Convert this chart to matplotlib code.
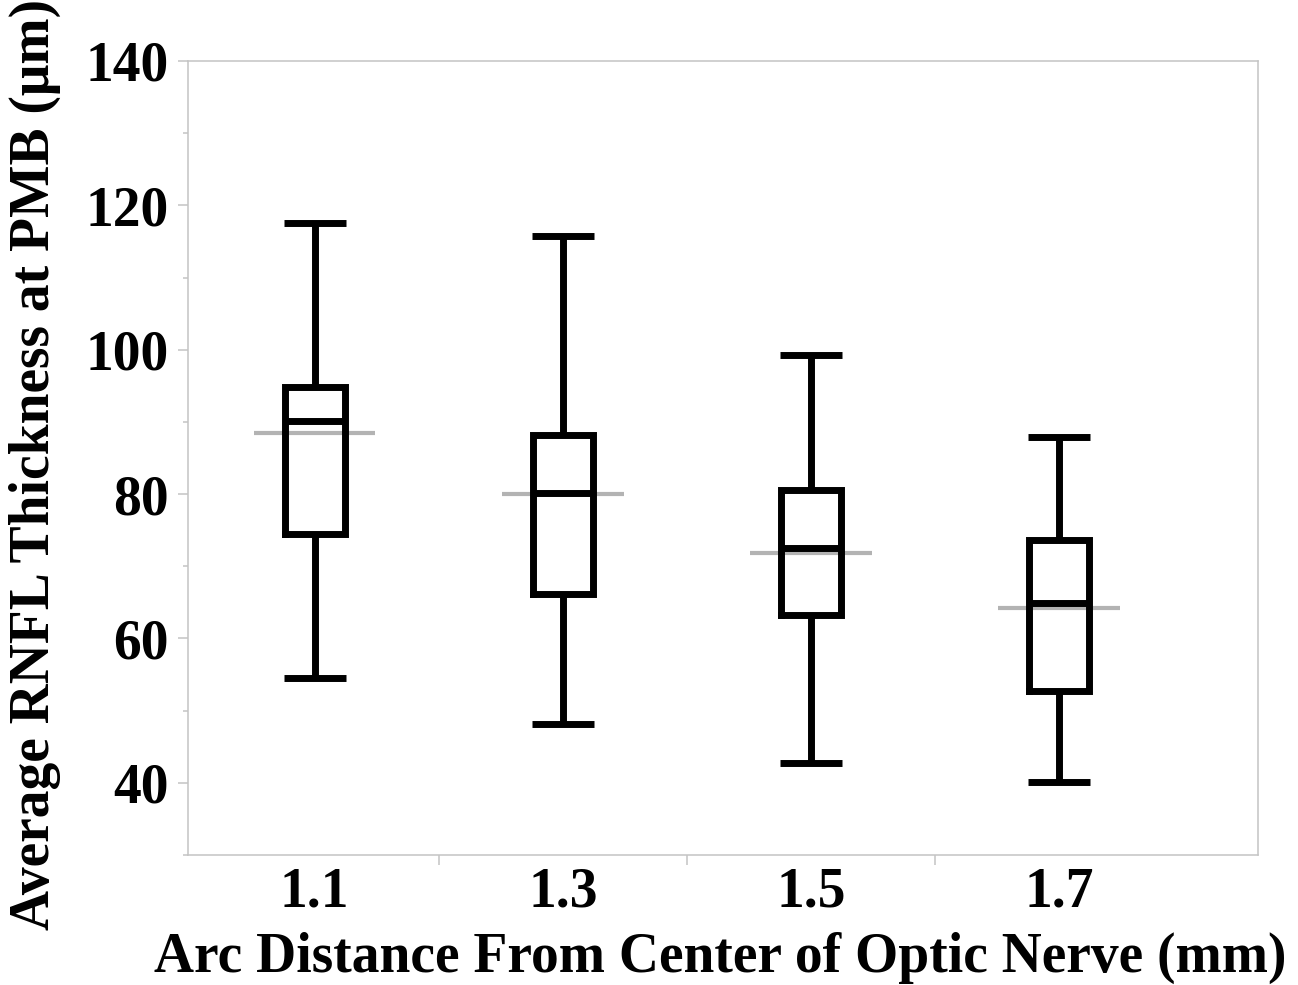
import matplotlib
matplotlib.use("Agg")
import matplotlib.pyplot as plt
from matplotlib.ticker import MultipleLocator, FixedLocator

# arc distance categories (mm)
labels = ["1.1", "1.3", "1.5", "1.7"]

# box plot summary values (um)
whisker_hi = [117.6, 115.8, 99.3, 87.9]
q3 = [94.8, 88.2, 80.5, 73.6]
medians = [90.1, 80.2, 72.5, 64.9]
q1 = [74.5, 66.2, 63.2, 52.7]
whisker_lo = [54.5, 48.1, 42.7, 40.1]
means = [88.4, 80.0, 71.9, 64.2]

plt.rcParams['font.family'] = ['Liberation Serif', 'DejaVu Serif']
plt.rcParams['font.weight'] = 'bold'

fig = plt.figure(figsize=(12.98, 9.85), dpi=100)
ax = fig.add_axes([0.1448, 0.1320, 0.8243, 0.8061])

pos = list(range(len(labels)))
stats = []
for i in pos:
    stats.append({'whislo': whisker_lo[i], 'q1': q1[i], 'med': medians[i],
                  'q3': q3[i], 'whishi': whisker_hi[i], 'fliers': []})

# grey mean lines sit behind the boxes
ax.hlines(means, [p - 0.245 for p in pos], [p + 0.245 for p in pos],
          colors='#b3b3b3', linewidth=3, zorder=1)

lw = 5
ax.bxp(stats, positions=pos, widths=0.242, capwidths=0.25, showfliers=False,
       boxprops=dict(color='black', linewidth=lw, solid_joinstyle='miter'),
       medianprops=dict(color='black', linewidth=lw, solid_capstyle='butt'),
       whiskerprops=dict(color='black', linewidth=lw, solid_capstyle='butt'),
       capprops=dict(color='black', linewidth=lw, solid_capstyle='butt'),
       zorder=3)

ax.set_xlim(-0.51, 3.80)
ax.set_ylim(30, 140)

ax.set_xticks(pos)
ax.set_xticklabels(labels)
ax.xaxis.set_minor_locator(FixedLocator([0.5, 1.5, 2.5]))
ax.yaxis.set_major_locator(FixedLocator([40, 60, 80, 100, 120, 140]))
ax.yaxis.set_minor_locator(MultipleLocator(10))

for s in ax.spines.values():
    s.set_color('#c4c4c4')
    s.set_linewidth(1.1)

ax.tick_params(axis='x', which='major', length=0, pad=8, labelsize=40)
ax.tick_params(axis='x', which='minor', length=7, width=1.1, color='#c4c4c4')
ax.tick_params(axis='y', which='major', length=7, width=1.1, color='#c4c4c4',
               pad=7, labelsize=40)
ax.tick_params(axis='y', which='minor', length=3.8, width=1.1, color='#c4c4c4')
for t in ax.get_xticklabels() + ax.get_yticklabels():
    t.set_fontweight('bold')

fig.text(0.5547, 0.0132, "Arc Distance From Center of Optic Nerve (mm)",
         ha='center', va='baseline', fontsize=40, fontweight='bold')
fig.text(0.027, 0.528, "Average RNFL Thickness at PMB (\u03bcm)",
         ha='center', va='center', rotation=90, fontsize=40, fontweight='bold')

fig.savefig("out.png", dpi=100)
